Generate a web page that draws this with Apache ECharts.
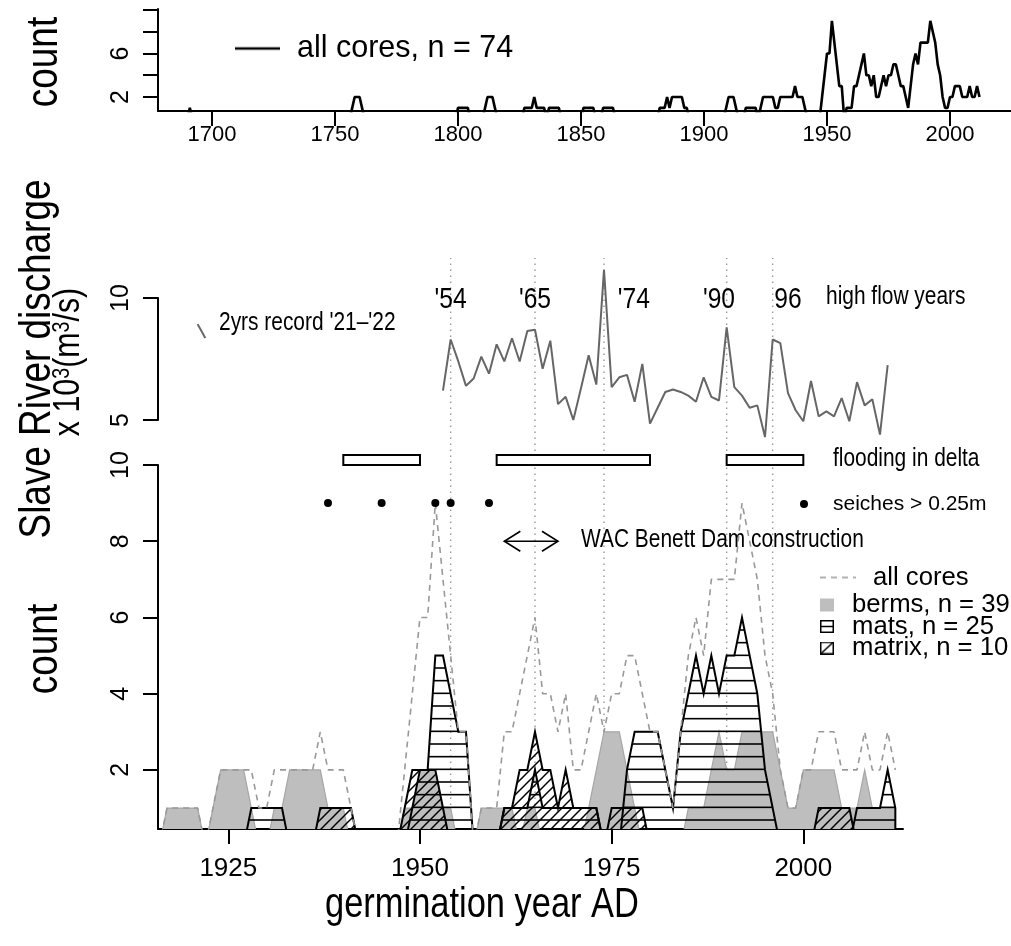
<!DOCTYPE html>
<html><head><meta charset="utf-8">
<script src="https://cdn.jsdelivr.net/npm/echarts@6/dist/echarts.min.js"></script>
<style>html,body{margin:0;padding:0;background:#fff}#c{width:1011px;height:946px}</style>
</head><body><div id="c"></div>
<script>
const FONT = "'Liberation Sans', Arial, Helvetica, sans-serif";
const NARROW = 0.82; // horizontal squeeze of the reference lettering

// ---------- DATA ----------
// top panel: all cores, yearly counts 1690-1915
const earlyStartYear = 1690;
const allCoresEarly = [
  0,1,0,0,0,0,0,0,0,0,   // 1690
  0,0,0,0,0,0,0,0,0,0,   // 1700
  0,0,0,0,0,0,0,0,0,0,   // 1710
  0,0,0,0,0,0,0,0,0,0,   // 1720
  0,0,0,0,0,0,0,0,0,0,   // 1730
  0,0,0,0,0,0,0,0,0,0,   // 1740
  0,0,0,0,0,0,0,1,2,2,   // 1750
  2,1,0,0,0,0,0,0,0,0,   // 1760
  0,0,0,0,0,0,0,0,0,0,   // 1770
  0,0,0,0,0,0,0,0,0,0,   // 1780
  0,0,0,0,0,0,0,0,0,0,   // 1790
  1,1,1,1,1,0,0,0,0,0,   // 1800
  0,1,2,2,2,1,0,0,0,0,   // 1810
  0,0,0,0,0,0,0,1,1,1,   // 1820
  1,2,1,1,1,1,0,1,1,1,   // 1830
  1,1,0,0,0,0,0,0,0,0,   // 1840
  0,1,1,1,1,1,0,0,0,1,   // 1850
  1,1,1,1,0,0,0,0,0,0,   // 1860
  0,0,0,0,0,0,0,0,0,0,   // 1870
  0,0,1,1,1,2,1,2,2,2,   // 1880
  2,2,1,1,0,0,0,0,0,0,   // 1890
  0,0,0,0,0,0,0,0,0,1,   // 1900
  2,2,2,1,0,0            // 1910-1915
];
// bottom panel: yearly counts 1916-2012
const startYear = 1916;
const allCores = [
  0,1,1,1,1,1,0,1,2,2,   // 1916
  2,2,2,1,1,2,2,2,2,2,   // 1926
  2,3,2,2,2,1,0,0,0,0,   // 1936
  0,0,2,4,6,6,9,7,5,3,   // 1946
  3,0,1,1,1,3,3,4,5,6,   // 1956
  4,4,3,4,2,2,3,4,3,4,   // 1966
  4,5,5,4,3,3,2,1,3,5,   // 1976
  6,5,7,7,7,7,9,8,7,5,   // 1986
  4,2,1,1,2,2,3,3,3,2,   // 1996
  2,2,3,2,2,3,2          // 2006-2012
];
const berms = [
  0,1,1,1,1,1,0,1,2,2,
  2,2,1,0,0,1,1,2,2,2,
  2,2,1,1,1,0,0,0,0,0,
  0,0,1,1,2,2,2,1,1,0,
  0,0,1,1,1,1,1,0,1,1,
  0,0,0,0,0,0,1,2,3,3,
  3,2,1,0,0,0,0,0,0,1,
  1,1,2,3,2,2,3,3,3,3,
  3,2,1,1,2,2,2,2,2,1,
  1,1,2,1,1,1,1
];
const mats = [
  0,0,0,0,0,0,0,0,0,0,
  0,0,1,1,1,1,1,0,0,0,
  0,0,0,0,0,0,0,0,0,0,
  0,0,0,1,2,2,5,5,4,3,
  3,0,0,0,0,1,1,1,1,2,
  1,1,1,1,1,1,1,1,0,0,
  0,2,3,3,3,3,2,1,3,4,
  5,4,5,4,5,5,6,5,4,2,
  1,0,0,0,0,0,0,0,0,0,
  0,1,1,1,1,2,1
];
const matrix = [
  0,0,0,0,0,0,0,0,0,0,
  0,0,0,0,0,0,0,0,0,0,
  0,1,1,1,1,1,0,0,0,0,
  0,0,1,2,2,2,2,1,0,0,
  0,0,0,0,0,1,1,2,2,3,
  2,2,1,2,1,1,1,1,0,1,
  1,1,1,1,0,0,0,0,0,0,
  0,0,0,0,0,0,0,0,0,0,
  0,0,0,0,0,0,1,1,1,1,
  1,0,0,0,0,0,0
];
// Slave River discharge (x 10^3 m3/s), 1953-2011
const dischargeStartYear = 1953;
const discharge = [
  6.2, 8.3, 7.4, 6.4, 6.7, 7.6, 6.9, 8.1, 7.4, 8.35,
  7.4, 8.65, 8.7, 7.1, 8.25, 5.65, 5.95, 5.0, 6.3, 7.65,
  6.45, 11.15, 6.35, 6.75, 6.85, 5.75, 7.3, 4.85, 5.5, 6.15,
  6.25, 6.15, 6.0, 5.75, 6.75, 5.95, 5.8, 8.8, 6.35, 6.0,
  5.5, 5.6, 4.3, 8.3, 8.15, 6.1, 5.4, 4.95, 6.6, 5.15,
  5.35, 5.15, 5.9, 4.95, 6.55, 5.6, 5.85, 4.4, 7.25
];
const recordYears = [1921, 1922];
const recordDischarge = [8.93, 8.36];
const highFlowYears = [1954, 1965, 1974, 1990, 1996];
const highFlowLabels = ["'54", "'65", "'74", "'90", "96"];
const highFlowLabelYears = [1954, 1965, 1977.9, 1989, 1998];
const floodStart = [1940, 1960, 1990];
const floodEnd = [1950, 1980, 2000];
const seicheYears = [1938, 1945, 1952, 1954, 1959];
const seicheLevel = 9;
const damYears = [1961, 1968];
const damLevel = 8;
const topXTicks = [1700, 1750, 1800, 1850, 1900, 1950, 2000];
const topYTicks = [2, 4, 6, 8, 10];
const topYLabels = [2, 6];
const dischargeTicks = [5, 10];
const bottomXTicks = [1925, 1950, 1975, 2000];
const countTicks = [2, 4, 6, 8, 10];

// ---------- PATTERNS / ICONS ----------
function hPattern() {
  const c = document.createElement('canvas'); c.width = 16; c.height = 38;
  const g = c.getContext('2d'); g.strokeStyle = '#000'; g.lineWidth = 1.6;
  [9.33, 22, 34.67].forEach(y => { g.beginPath(); g.moveTo(0, y); g.lineTo(16, y); g.stroke(); });
  return c;
}
function dPattern() {
  const c = document.createElement('canvas'); c.width = 10; c.height = 10;
  const g = c.getContext('2d'); g.strokeStyle = '#000'; g.lineWidth = 1.5;
  [[-1, 11, 11, -1], [-1, 1, 1, -1], [9, 11, 11, 9]].forEach(s => {
    g.beginPath(); g.moveTo(s[0], s[1]); g.lineTo(s[2], s[3]); g.stroke();
  });
  return c;
}
function boxIcon(kind) {
  const c = document.createElement('canvas'); c.width = 14; c.height = 13;
  const g = c.getContext('2d');
  g.fillStyle = '#fff'; g.fillRect(0, 0, 14, 13);
  g.strokeStyle = '#000'; g.lineWidth = 1.5;
  g.strokeRect(0.75, 0.75, 12.5, 11.5);
  g.beginPath();
  if (kind === 'h') { g.moveTo(0, 6.5); g.lineTo(14, 6.5); }
  else { g.moveTo(1, 12); g.lineTo(13, 1); }
  g.stroke();
  return 'image://' + c.toDataURL();
}
function lineIcon(w, h, color, lw, dash) {
  const c = document.createElement('canvas'); c.width = w; c.height = h;
  const g = c.getContext('2d'); g.strokeStyle = color; g.lineWidth = lw;
  if (dash) g.setLineDash(dash);
  g.beginPath(); g.moveTo(0, h / 2); g.lineTo(w, h / 2); g.stroke();
  return 'image://' + c.toDataURL();
}
const matsFill = { image: hPattern(), repeat: 'repeat' };
const matrixFill = { image: dPattern(), repeat: 'repeat' };

// ---------- HELPERS ----------
const yearsFrom = (y0, arr) => arr.map((v, i) => [y0 + i, v]);
function polygonSeries(name, values, fill, stroke, lw, z) {
  return {
    type: 'custom', name, xAxisIndex: 2, yAxisIndex: 2, z, clip: true,
    data: yearsFrom(startYear, values), encode: { x: 0, y: 1 },
    renderItem(params, api) {
      if (params.dataIndex !== 0) return null;
      const pts = [api.coord([startYear, 0])];
      values.forEach((v, i) => pts.push(api.coord([startYear + i, v])));
      pts.push(api.coord([startYear + values.length - 1, 0]));
      return { type: 'polygon', shape: { points: pts },
        style: { fill, stroke, lineWidth: lw, lineJoin: 'miter' } };
    }
  };
}
function txt(text, x, y, size, rot, align, rich) {
  return { type: 'text', x, y, rotation: rot || 0, scaleX: NARROW, z: 100,
    style: { text, fill: '#000', fontSize: size, fontFamily: FONT,
      align: align || 'center', verticalAlign: 'middle', rich: rich } };
}

const AX = { color: '#000', width: 2 };
const lbl = (size, extra) => Object.assign({ color: '#000', fontFamily: FONT, fontSize: size, formatter: v => String(v) }, extra);
const X_MIN = 1915.83, X_MAX = 2013;
const legendText = (size, padLeft) => ({ color: '#000', fontFamily: FONT, fontSize: size, padding: [0, 0, 0, padLeft] });

const chart = echarts.init(document.getElementById('c'), null, { renderer: 'canvas', width: 1011, height: 946 });
chart.setOption({
  animation: false,
  backgroundColor: '#fff',
  grid: [
    { left: 158, top: 9, width: 853, height: 102, outerBoundsMode: 'none' },
    { left: 158, top: 298, width: 745, height: 122, outerBoundsMode: 'none' },
    { left: 158, top: 465, width: 745, height: 364, outerBoundsMode: 'none' }
  ],
  xAxis: [
    { gridIndex: 0, type: 'value', min: 1678.05, max: 2024.8,
      axisLine: { show: true, onZero: false, lineStyle: AX },
      axisTick: { show: true, length: 15, lineStyle: AX, customValues: topXTicks },
      axisLabel: lbl(22, { margin: 13, customValues: topXTicks }),
      splitLine: { show: false } },
    { gridIndex: 1, type: 'value', min: X_MIN, max: X_MAX, show: false, splitLine: { show: false } },
    { gridIndex: 2, type: 'value', min: X_MIN, max: X_MAX,
      axisLine: { show: true, onZero: false, lineStyle: AX },
      axisTick: { show: true, length: 15, lineStyle: AX, customValues: bottomXTicks },
      axisLabel: lbl(26, { margin: 27, customValues: bottomXTicks }),
      splitLine: { show: false } }
  ],
  yAxis: [
    { gridIndex: 0, type: 'value', min: 0.713, max: 10.09,
      axisLine: { show: true, onZero: false, lineStyle: AX },
      axisTick: { show: true, length: 15, lineStyle: AX, customValues: topYTicks },
      axisLabel: lbl(25, { margin: 24, rotate: 90, customValues: topYLabels }),
      splitLine: { show: false } },
    { gridIndex: 1, type: 'value', min: 5, max: 10, interval: 5,
      axisLine: { show: true, onZero: false, lineStyle: AX },
      axisTick: { show: true, length: 15, lineStyle: AX, customValues: dischargeTicks },
      axisLabel: lbl(25, { margin: 24, rotate: 90, customValues: dischargeTicks }),
      splitLine: { show: false } },
    { gridIndex: 2, type: 'value', min: 0.45, max: 10,
      axisLine: { show: true, onZero: false, lineStyle: AX },
      axisTick: { show: true, length: 15, lineStyle: AX, customValues: countTicks },
      axisLabel: lbl(25, { margin: 24, rotate: 90, customValues: countTicks }),
      splitLine: { show: false } }
  ],
  legend: [
    { data: [{ name: 'all cores, n = 74', icon: lineIcon(45, 14, '#000', 2.6) }],
      left: 235, top: 33, padding: 0, itemWidth: 45, itemHeight: 14,
      selectedMode: false, textStyle: legendText(30.5, 12) },
    { data: [{ name: 'all cores', icon: lineIcon(36, 14, '#999', 1.6, [6, 5]) }],
      left: 820, top: 564.5, padding: 0, itemWidth: 36, itemHeight: 14,
      selectedMode: false, textStyle: legendText(25.7, 12) },
    { data: [
        { name: 'berms, n = 39', icon: 'rect', itemStyle: { color: '#bebebe', borderWidth: 0 } },
        { name: 'mats, n = 25', icon: boxIcon('h') },
        { name: 'matrix, n = 10', icon: boxIcon('d') }
      ], orient: 'vertical', left: 820, top: 592, padding: 0, itemWidth: 14, itemHeight: 13, itemGap: -4.5,
      selectedMode: false, textStyle: legendText(25.7, 13) },
    { data: [{ name: 'seiches > 0.25m', icon: 'circle', itemStyle: { color: '#000', opacity: 1 } }],
      left: 800, top: 493.5, padding: 0, itemWidth: 8, itemHeight: 8,
      selectedMode: false, textStyle: legendText(21, 20) }
  ],
  series: [
    { name: 'all cores, n = 74', type: 'line', xAxisIndex: 0, yAxisIndex: 0,
      data: yearsFrom(earlyStartYear, allCoresEarly).concat(yearsFrom(startYear, allCores)),
      symbol: 'none', clip: true, lineStyle: { color: '#000', width: 2.6 }, itemStyle: { color: '#000' } },
    { name: 'discharge', type: 'line', xAxisIndex: 1, yAxisIndex: 1,
      data: yearsFrom(dischargeStartYear, discharge), symbol: 'none', clip: false,
      lineStyle: { color: '#666', width: 2 }, z: 5 },
    { name: 'record', type: 'line', xAxisIndex: 1, yAxisIndex: 1,
      data: recordYears.map((y, i) => [y, recordDischarge[i]]), symbol: 'none', clip: false,
      lineStyle: { color: '#666', width: 2 } },
    { name: 'highflowlabels', type: 'custom', xAxisIndex: 1, yAxisIndex: 1, z: 10,
      data: highFlowLabelYears.map(y => [y, 9.92]), encode: { x: 0, y: 1 },
      renderItem(params, api) {
        const p = api.coord([api.value(0), api.value(1)]);
        return { type: 'text', x: p[0], y: p[1], scaleX: NARROW,
          style: { text: highFlowLabels[params.dataIndex], fill: '#000', fontSize: 30, fontFamily: FONT, align: 'center', verticalAlign: 'middle' } };
      } },
    { name: 'highflowlines', type: 'custom', xAxisIndex: 2, yAxisIndex: 2, z: 1,
      data: highFlowYears.map(y => [y, 1]), encode: { x: 0, y: 1 },
      renderItem(params, api) {
        const a = api.coord([api.value(0), 0.45]);
        const b = api.coord([api.value(0), 15.43]);
        return { type: 'line', shape: { x1: a[0], y1: a[1], x2: b[0], y2: b[1] },
          style: { stroke: '#999', lineWidth: 1.4, lineDash: [1.5, 4.5] } };
      } },
    polygonSeries('berms, n = 39', berms, '#bebebe', '#a6a6a6', 1.2, 2),
    polygonSeries('mats, n = 25', mats, matsFill, '#000', 2, 3),
    polygonSeries('matrix, n = 10', matrix, matrixFill, '#000', 2, 4),
    { name: 'all cores', type: 'line', xAxisIndex: 2, yAxisIndex: 2,
      data: yearsFrom(startYear, allCores), symbol: 'none', clip: true, z: 5,
      lineStyle: { color: '#999', width: 1.6, type: [6, 5] }, itemStyle: { color: '#999' } },
    { name: 'flooding', type: 'custom', xAxisIndex: 2, yAxisIndex: 2, z: 6,
      data: floodStart.map((s, i) => [s, floodEnd[i]]), encode: { x: [0, 1] },
      renderItem(params, api) {
        const a = api.coord([api.value(0), 10.26]);
        const b = api.coord([api.value(1), 10.0]);
        return { type: 'rect', shape: { x: a[0], y: a[1], width: b[0] - a[0], height: b[1] - a[1] },
          style: { fill: '#fff', stroke: '#000', lineWidth: 2 } };
      } },
    { name: 'seiches > 0.25m', type: 'scatter', xAxisIndex: 2, yAxisIndex: 2, z: 6,
      data: seicheYears.map(y => [y, seicheLevel]), symbol: 'circle', symbolSize: 8,
      itemStyle: { color: '#000', opacity: 1 } },
    { name: 'dam', type: 'custom', xAxisIndex: 2, yAxisIndex: 2, z: 6,
      data: [[damYears[0], damYears[1], damLevel]], encode: { x: [0, 1], y: 2 },
      renderItem(params, api) {
        const a = api.coord([api.value(0), api.value(2)]);
        const b = api.coord([api.value(1), api.value(2)]);
        const hx = 16, hy = 10, st = { stroke: '#000', lineWidth: 1.6, fill: null };
        return { type: 'group', children: [
          { type: 'line', shape: { x1: a[0], y1: a[1], x2: b[0], y2: b[1] }, style: st },
          { type: 'polyline', shape: { points: [[a[0] + hx, a[1] - hy], [a[0], a[1]], [a[0] + hx, a[1] + hy]] }, style: st },
          { type: 'polyline', shape: { points: [[b[0] - hx, b[1] - hy], [b[0], b[1]], [b[0] - hx, b[1] + hy]] }, style: st }
        ] };
      } }
  ],
  graphic: [
    txt('count', 45, 62, 45, Math.PI / 2),
    txt('Slave River discharge', 38, 359, 45, Math.PI / 2),
    txt('x 10{s|3}(m{s|3}/s)', 69, 362, 37, Math.PI / 2, 'center',
        { s: { fontSize: 24, fontFamily: FONT, fill: '#000', verticalAlign: 'top' } }),
    txt('count', 45, 649, 45, Math.PI / 2),
    txt('germination year AD', 482, 905, 42, 0),
    txt('2yrs record \'21\u2013\'22', 219, 323, 25.5, 0, 'left'),
    txt('high flow years', 826, 297, 25.5, 0, 'left'),
    txt('flooding in delta', 833, 459, 25.5, 0, 'left'),
    txt('WAC Benett Dam construction', 581, 540, 25.5, 0, 'left')
  ]
});
</script></body></html>
